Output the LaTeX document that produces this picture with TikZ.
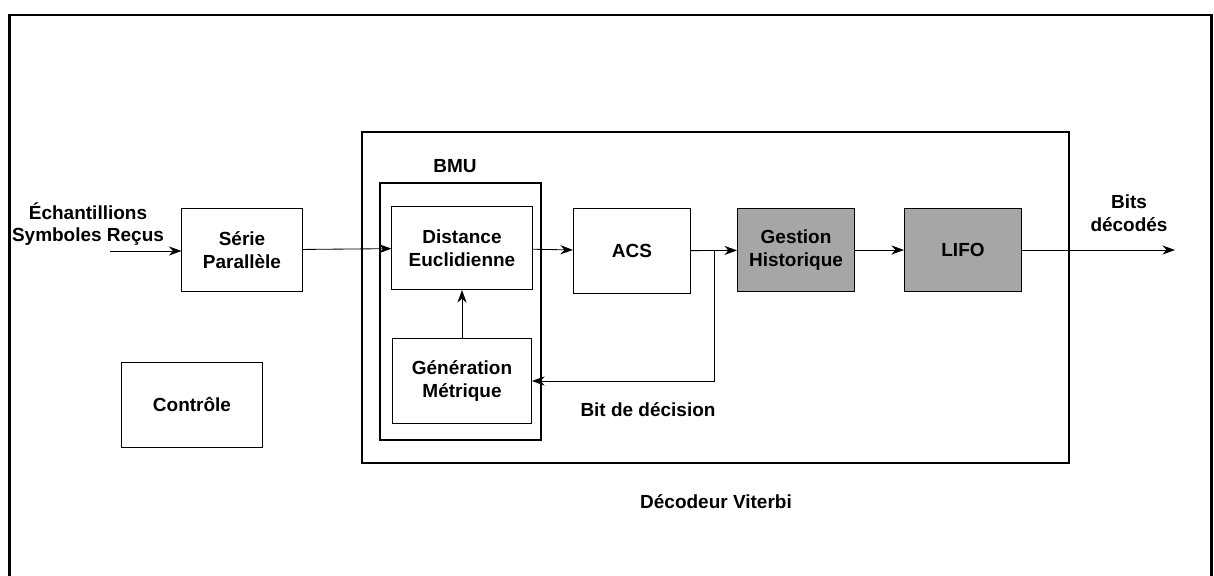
\documentclass[tikz,border=0pt]{standalone}
\usepackage{fontspec}
\setmainfont{Liberation Sans}
\usepackage{xcolor}
\usetikzlibrary{arrows.meta}
\begin{document}
\begin{tikzpicture}[x=0.025cm, y=-0.025cm,
  font=\bfseries\fontsize{13.5}{16}\selectfont,
  blk/.style={draw, line width=0.7pt, align=center, inner sep=0pt},
  hist/.style={blk, fill=gray!70}]
 \useasboundingbox (0,0) rectangle (1214,576);
 % cadre general
 \draw[line width=1.8pt] (9.5,576) -- (9.5,15) -- (1211.5,15) -- (1211.5,576);
 \node[draw, line width=1.5pt, minimum width=17.675cm, minimum height=8.275cm] (VIT) at (715.5,297.5) {};
 \node (VITL) at (716,502) {Décodeur Viterbi};
 \node[draw, line width=1.6pt, minimum width=4.025cm, minimum height=6.425cm] (BMU) at (460.5,311.5) {};
 \node (BMUL) at (455,166) {BMU};
 % blocs
 \node[blk, minimum width=3cm, minimum height=2.075cm] (SP) at (242,250) {Série\\Parallèle};
 \node[blk, minimum width=3.5cm, minimum height=2.1cm] (CTRL) at (192,405) {Contrôle};
 \node[blk, minimum width=3.5cm, minimum height=2.075cm] (DE) at (462,248) {Distance\\Euclidienne};
 \node[blk, minimum width=3.475cm, minimum height=2.1cm] (GM) at (462,381) {Génération\\Métrique};
 \node[blk, minimum width=2.925cm, minimum height=2.1cm] (ACS) at (632,251) {ACS};
 \node[hist, minimum width=2.925cm, minimum height=2.075cm] (GH) at (796,250) {Gestion\\Historique};
 \node[hist, minimum width=2.925cm, minimum height=2.075cm] (LIFO) at (963,250) {LIFO};
 % textes
 \node[align=center] (ESR) at (88,224) {Échantillions\\Symboles Reçus};
 \node[align=center] (BD) at (1129,213) {Bits\\décodés};
 \node (BDEC) at (648,410) {Bit de décision};
 \coordinate (IN) at (110,251);
 \coordinate (OUT) at (1175,250);
 \coordinate (BR) at (714,250);
 % liaisons
 \draw[->, >={Stealth[length=9pt,width=6.5pt]}, line width=0.6pt] (IN) -- (SP.west |- IN);
 \draw[->, >={Stealth[length=9pt,width=6.5pt]}, line width=0.6pt] (SP) -- (DE);
 \draw[->, >={Stealth[length=9pt,width=6.5pt]}, line width=0.6pt] (DE) -- (ACS);
 \draw[->, >={Stealth[length=9pt,width=6.5pt]}, line width=0.6pt] (ACS) -- (GH);
 \draw[->, >={Stealth[length=9pt,width=6.5pt]}, line width=0.6pt] (GH) -- (LIFO);
 \draw[->, >={Stealth[length=9pt,width=6.5pt]}, line width=0.6pt] (LIFO) -- (OUT);
 \draw[->, >={Stealth[length=9pt,width=6.5pt]}, line width=0.6pt] (GM) -- (DE);
 \draw[->, >={Stealth[length=9pt,width=6.5pt]}, line width=0.6pt] (BR) |- (GM.east);
\end{tikzpicture}
\end{document}
